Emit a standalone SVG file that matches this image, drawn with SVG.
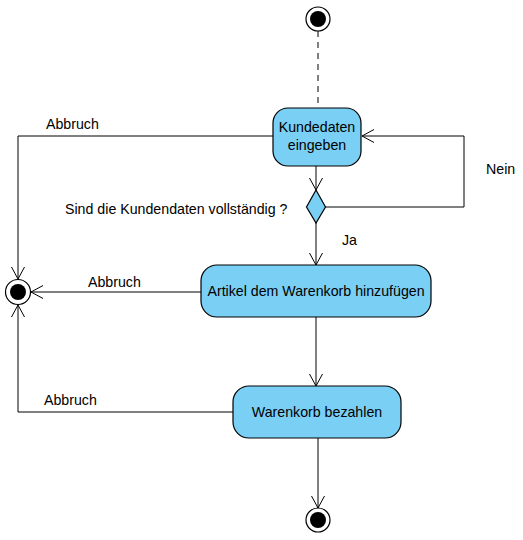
<svg xmlns="http://www.w3.org/2000/svg" width="523" height="540" viewBox="0 0 523 540">
<defs>
<marker id="arr" markerWidth="14" markerHeight="14" refX="12" refY="7" orient="auto" markerUnits="userSpaceOnUse">
<path d="M0,0.5 L12,7 L0,13.5" fill="none" stroke="#000" stroke-width="1"/>
</marker>
</defs>
<style>
.act{fill:#7ACFF5;stroke:#000;stroke-width:1.2}
.t{font-family:"Liberation Sans",Arial,sans-serif;font-size:14.2px;fill:#000}
.c{text-anchor:middle}
.ln{fill:none;stroke:#000;stroke-width:1}
</style>
<rect width="523" height="540" fill="#fff"/>
<g id="connectors">
<line class="ln" x1="318" y1="31" x2="318" y2="108" stroke-dasharray="6,5"/>
<line class="ln" x1="316" y1="166" x2="316" y2="190" marker-end="url(#arr)"/>
<polyline class="ln" points="325,207 464,207 464,136 362,136" marker-end="url(#arr)"/>
<polyline class="ln" points="273,136 18,136 18,279" marker-end="url(#arr)"/>
<line class="ln" x1="316" y1="223" x2="316" y2="265" marker-end="url(#arr)"/>
<line class="ln" x1="201" y1="292" x2="31" y2="292" marker-end="url(#arr)"/>
<line class="ln" x1="316" y1="317" x2="316" y2="386" marker-end="url(#arr)"/>
<polyline class="ln" points="233,412 18,412 18,305" marker-end="url(#arr)"/>
<line class="ln" x1="318" y1="438" x2="318" y2="508" marker-end="url(#arr)"/>
<text class="t" x="46" y="129">Abbruch</text>
<text class="t" x="486" y="174">Nein</text>
<text class="t" x="65" y="214">Sind die Kundendaten vollständig ?</text>
<text class="t" x="342" y="245">Ja</text>
<text class="t" x="88" y="287">Abbruch</text>
<text class="t" x="44" y="405">Abbruch</text>
</g>
<g id="start">
<circle cx="318" cy="19" r="12" fill="#fff" stroke="#000" stroke-width="1.2"/>
<circle cx="318" cy="19" r="8" fill="#000"/>
</g>
<g id="kundedaten">
<rect class="act" x="273" y="108" width="88" height="58" rx="15"/>
<text class="t c" x="317" y="132">Kundedaten</text>
<text class="t c" x="317" y="150">eingeben</text>
</g>
<g id="decision">
<polygon class="act" points="316,190 325.5,207 316,223 306.5,207"/>
</g>
<g id="artikel">
<rect class="act" x="201" y="265" width="230" height="52" rx="16"/>
<text class="t c" x="316" y="296">Artikel dem Warenkorb hinzufügen</text>
</g>
<g id="bezahlen">
<rect class="act" x="233" y="386" width="168" height="52" rx="16"/>
<text class="t c" x="317" y="417">Warenkorb bezahlen</text>
</g>
<g id="end-cancel">
<circle cx="18" cy="292" r="12.5" fill="#fff" stroke="#000" stroke-width="1.2"/>
<circle cx="18" cy="292" r="8" fill="#000"/>
</g>
<g id="end">
<circle cx="318" cy="520" r="12" fill="#fff" stroke="#000" stroke-width="1.2"/>
<circle cx="318" cy="520" r="8" fill="#000"/>
</g>
</svg>
